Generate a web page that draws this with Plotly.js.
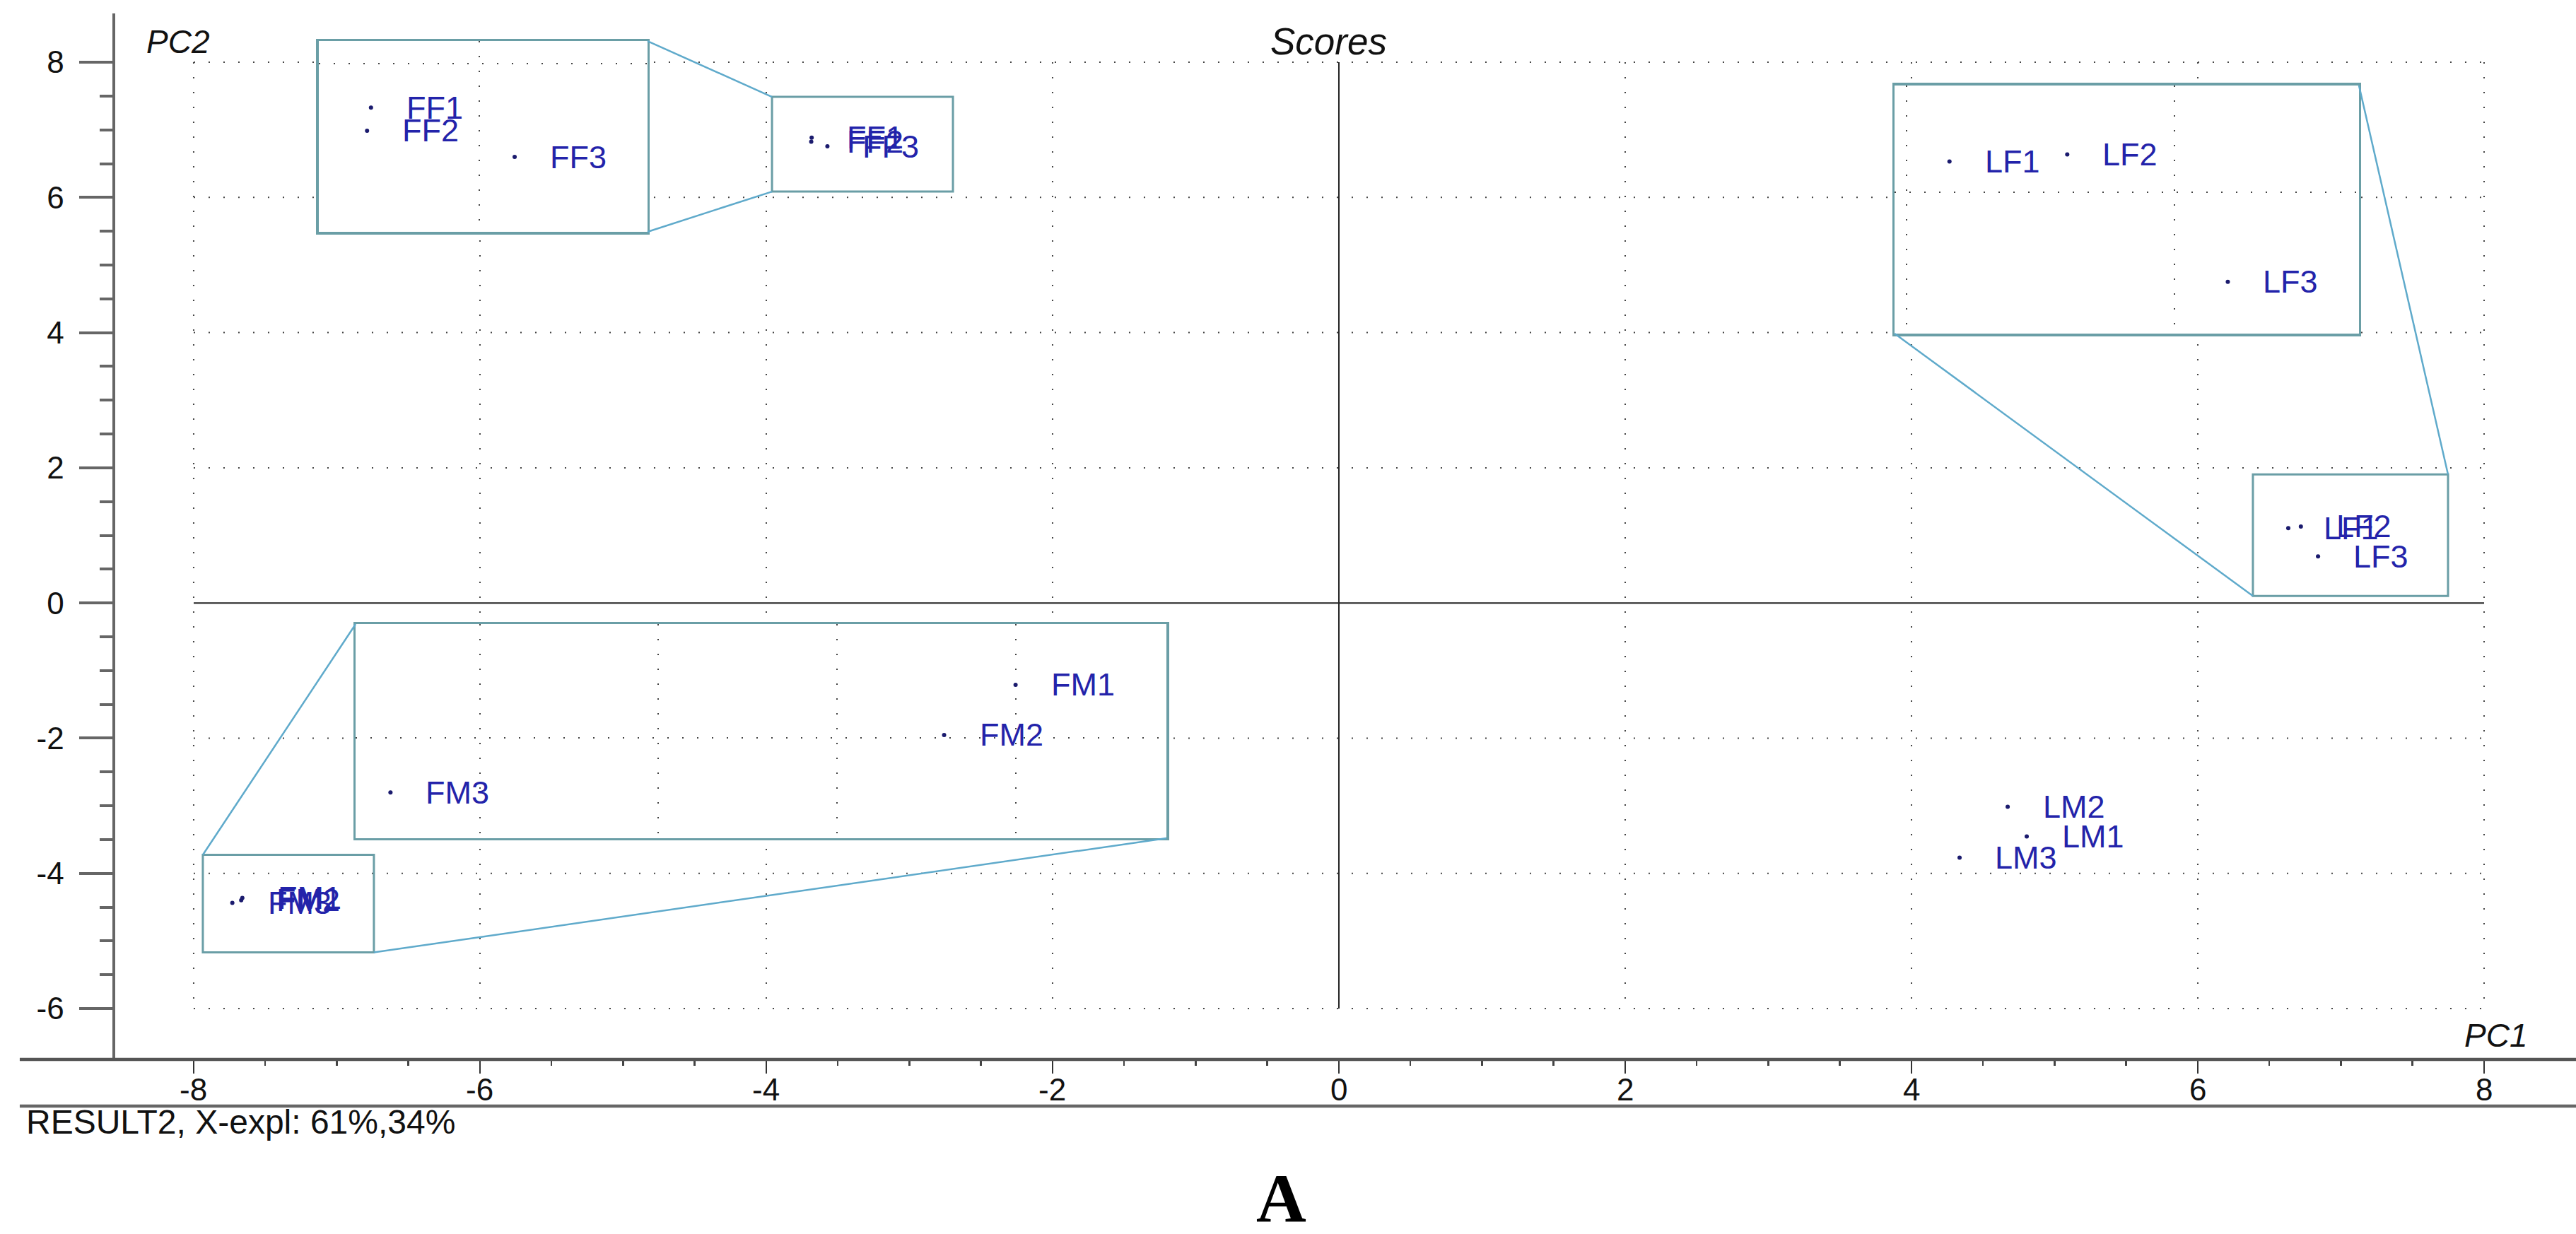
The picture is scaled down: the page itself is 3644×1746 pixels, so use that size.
<!DOCTYPE html>
<html>
<head>
<meta charset="utf-8">
<script src="https://cdn.plot.ly/plotly-3.0.1.min.js"></script>
<style>
html,body{margin:0;padding:0;background:#fff;}
#chart{width:3644px;height:1746px;}
</style>
</head>
<body>
<div id="chart"></div>
<script>
// ---------------- data ----------------
const sampleNames = ['FF1','FF2','FF3','LF1','LF2','LF3','FM1','FM2','FM3','LM1','LM2','LM3'];
const sampleGroup = ['FF','FF','FF','LF','LF','LF','FM','FM','FM','LM','LM','LM'];
const pc1Scores = [-3.683,-3.686,-3.573, 6.632,6.720,6.840, -7.660,-7.668,-7.730, 4.805,4.672,4.336];
const pc2Scores = [ 6.885, 6.824, 6.755, 1.107,1.132,0.690, -4.364,-4.398,-4.437, -3.454,-3.015,-3.768];
const pc1Ticks = [-8,-6,-4,-2,0,2,4,6,8];
const pc1TickText = ['-8','-6','-4','-2','0','2','4','6','8'];
const pc2Ticks = [-6,-4,-2,0,2,4,6,8];
const pc2TickText = ['-6','-4','-2','0','2','4','6','8'];
const chartTitle = 'Scores';
const xTitle = 'PC1';
const yTitle = 'PC2';
const footText = 'RESULT2, X-expl: 61%,34%';
const panelLetter = 'A';

// ---------------- styles ----------------
const FONT = 'Liberation Sans, Arial, Helvetica, sans-serif';
const SERIF = 'Liberation Serif, Times New Roman, serif';
const LABEL_BLUE = '#2323aa';
const DOT = '#1b1b6e';
const GRID = '#444444';
const GRID_DASH = '2px,19px';
const BOX_COL = '#6a9ea6';
const LINK_COL = '#5faacb';
const X_RANGE = [-8.548, 8.642];
const Y_RANGE = [-6.753, 8.722];
const LABEL_SIZE = 45;

// zoomed inset views (their own axes)
const insets = [
  {group:'FF', id:2, xdom:[0.0827,0.2163], ydom:[0.7912,0.9736], xr:[-3.723,-3.4713], yr:[6.558,7.06], dtx:0.2, dty:0.5,
   src:{x0:-3.960, x1:-2.696, y0:6.086, y1:7.487}, links:[['TR','TL'],['BR','BL']]},
  {group:'LF', id:3, xdom:[0.7231,0.9118], ydom:[0.6939,0.9311], xr:[6.591,6.938], yr:[0.51,1.371], dtx:0.2, dty:0.5,
   src:{x0:6.385, x1:7.748, y0:0.103, y1:1.902}, links:[['BL','BL'],['TR','TR']]},
  {group:'FM', id:4, xdom:[0.0977,0.4272], ydom:[0.2115,0.4162], xr:[-7.7339,-7.6431], yr:[-4.468,-4.3228], dtx:0.02, dty:0.1,
   src:{x0:-7.936, x1:-6.741, y0:-5.169, y1:-3.726}, links:[['TL','TL'],['BR','BR']]}
];

// ---------------- helpers ----------------
const toPX = v => (v - X_RANGE[0]) / (X_RANGE[1] - X_RANGE[0]);
const toPY = v => (v - Y_RANGE[0]) / (Y_RANGE[1] - Y_RANGE[0]);
function corner(box, c) {
  return [c[1] === 'L' ? box.l : box.r, c[0] === 'T' ? box.t : box.b];
}
function minorFrom(ticks) {
  const out = [];
  for (let i = 0; i < ticks.length - 1; i++) {
    const a = ticks[i], b = ticks[i + 1], st = (b - a) / 4;
    for (let k = 1; k < 4; k++) out.push(a + k * st);
  }
  return out;
}

// ---------------- traces ----------------
const traces = [{
  type:'scatter', mode:'markers', x:pc1Scores, y:pc2Scores, xaxis:'x', yaxis:'y',
  marker:{size:6, color:DOT}, hoverinfo:'skip', showlegend:false
}];
const annotations = [];
sampleNames.forEach((n, i) => {
  annotations.push({x:pc1Scores[i], y:pc2Scores[i], xref:'x', yref:'y', text:n, showarrow:false,
    xanchor:'left', yanchor:'middle', xshift:48, font:{family:FONT, size:LABEL_SIZE, color:LABEL_BLUE}});
});

const layout = {
  width:3644, height:1746,
  margin:{l:163, r:0, t:19, b:247},
  paper_bgcolor:'#ffffff', plot_bgcolor:'#ffffff',
  showlegend:false,
  font:{family:FONT, color:'#111'},
  xaxis:{
    range:X_RANGE, tickmode:'array', tickvals:pc1Ticks, ticktext:pc1TickText, showticklabels:false,
    ticks:'outside', ticklen:19, tickwidth:2.5, tickcolor:'#333',
    showline:false, showgrid:false, zeroline:false,
    minor:{tickmode:'array', tickvals:minorFrom(pc1Ticks), ticks:'outside', ticklen:8, tickwidth:2.5, tickcolor:'#444', showgrid:false}
  },
  yaxis:{
    range:Y_RANGE, tickmode:'array', tickvals:pc2Ticks, ticktext:pc2TickText,
    ticks:'outside', ticklen:47, tickwidth:4, tickcolor:'#666',
    showline:true, linewidth:4.5, linecolor:'#666', showgrid:false, zeroline:false, ticklabelstandoff:12,
    tickfont:{family:FONT, size:44, color:'#111'},
    minor:{tickmode:'array', tickvals:minorFrom(pc2Ticks), ticks:'outside', ticklen:18, tickwidth:4, tickcolor:'#666', showgrid:false}
  },
  shapes:[], annotations:annotations
};

// x tick labels (placed between the two bottom rules)
pc1Ticks.forEach((v, i) => annotations.push({x:v, xref:'x', yref:'paper', y:-0.0284, text:pc1TickText[i],
  showarrow:false, xanchor:'center', yanchor:'middle', font:{family:FONT, size:44, color:'#111'}}));

// main dotted grid (only between the outer ticks)
const xMin = pc1Ticks[0], xMax = pc1Ticks[pc1Ticks.length - 1];
const yMin = pc2Ticks[0], yMax = pc2Ticks[pc2Ticks.length - 1];
pc1Ticks.forEach(v => {
  if (v === 0) return;
  layout.shapes.push({type:'line', xref:'x', yref:'y', x0:v, x1:v, y0:yMax, y1:yMin, layer:'below',
    line:{color:GRID, width:2, dash:GRID_DASH}});
});
pc2Ticks.forEach(v => {
  if (v === 0) return;
  layout.shapes.push({type:'line', xref:'x', yref:'y', x0:xMin, x1:xMax, y0:v, y1:v, layer:'below',
    line:{color:GRID, width:2, dash:GRID_DASH}});
});
// zero lines
layout.shapes.push({type:'line', xref:'x', yref:'y', x0:0, x1:0, y0:yMin, y1:yMax, layer:'below', line:{color:'#222', width:2}});
layout.shapes.push({type:'line', xref:'x', yref:'y', x0:xMin, x1:xMax, y0:0, y1:0, layer:'below', line:{color:'#222', width:2}});
// bottom frame lines
layout.shapes.push({type:'line', xref:'paper', yref:'paper', x0:-0.0388, x1:1, y0:0, y1:0, line:{color:'#555', width:4.5}});
layout.shapes.push({type:'line', xref:'paper', yref:'paper', x0:-0.0388, x1:1, y0:-0.0446, y1:-0.0446, line:{color:'#666', width:4.5}});

// insets
insets.forEach(ins => {
  const xa = 'xaxis' + ins.id, ya = 'yaxis' + ins.id;
  const xr = 'x' + ins.id, yr = 'y' + ins.id;
  const axCommon = {showticklabels:false, ticks:'', zeroline:false, showgrid:true,
    gridcolor:GRID, gridwidth:2, griddash:GRID_DASH, tick0:0,
    showline:true, mirror:true, linecolor:BOX_COL, linewidth:3.5};
  layout[xa] = Object.assign({domain:ins.xdom, anchor:yr, range:ins.xr, dtick:ins.dtx}, axCommon);
  layout[ya] = Object.assign({domain:ins.ydom, anchor:xr, range:ins.yr, dtick:ins.dty}, axCommon);
  const idx = sampleGroup.map((g, i) => g === ins.group ? i : -1).filter(i => i >= 0);
  traces.push({type:'scatter', mode:'markers', x:idx.map(i => pc1Scores[i]), y:idx.map(i => pc2Scores[i]),
    xaxis:xr, yaxis:yr, marker:{size:6, color:DOT}, hoverinfo:'skip', showlegend:false});
  idx.forEach(i => annotations.push({x:pc1Scores[i], y:pc2Scores[i], xref:xr, yref:yr, text:sampleNames[i],
    showarrow:false, xanchor:'left', yanchor:'middle', xshift:48, font:{family:FONT, size:LABEL_SIZE, color:LABEL_BLUE}}));
  // source box (transparent) in main data coords
  layout.shapes.push({type:'rect', xref:'x', yref:'y', x0:ins.src.x0, x1:ins.src.x1, y0:ins.src.y0, y1:ins.src.y1,
    line:{color:BOX_COL, width:3}, fillcolor:'rgba(0,0,0,0)'});
  // connector lines
  const big = {l:ins.xdom[0], r:ins.xdom[1], t:ins.ydom[1], b:ins.ydom[0]};
  const small = {l:toPX(ins.src.x0), r:toPX(ins.src.x1), t:toPY(ins.src.y1), b:toPY(ins.src.y0)};
  ins.links.forEach(([cb, cs]) => {
    const p = corner(big, cb), q = corner(small, cs);
    layout.shapes.push({type:'line', xref:'paper', yref:'paper', x0:p[0], y0:p[1], x1:q[0], y1:q[1],
      line:{color:LINK_COL, width:2.5}});
  });
});

// texts
annotations.push({xref:'paper', yref:'paper', x:0.01207, y:0.9730, xanchor:'left', yanchor:'middle', showarrow:false,
  text:'<i>' + yTitle + '</i>', font:{family:FONT, size:46, color:'#111'}});
annotations.push({xref:'x', yref:'paper', x:-0.07, y:0.9736, xanchor:'center', yanchor:'middle', showarrow:false,
  text:'<i>' + chartTitle + '</i>', font:{family:FONT, size:53, color:'#111'}});
annotations.push({xref:'paper', yref:'paper', x:0.9808, y:0.0230, xanchor:'right', yanchor:'middle', showarrow:false,
  text:'<i>' + xTitle + '</i>', font:{family:FONT, size:46, color:'#111'}});
annotations.push({xref:'paper', yref:'paper', x:-0.0368, y:-0.0601, xanchor:'left', yanchor:'middle', showarrow:false,
  text:footText, font:{family:FONT, size:48, color:'#111'}});
annotations.push({xref:'paper', yref:'paper', x:0.474, y:-0.1325, xanchor:'center', yanchor:'middle', showarrow:false,
  text:'<b>' + panelLetter + '</b>', font:{family:SERIF, size:98, color:'#000'}});

Plotly.newPlot('chart', traces, layout, {staticPlot:true, displayModeBar:false});
</script>
</body>
</html>
